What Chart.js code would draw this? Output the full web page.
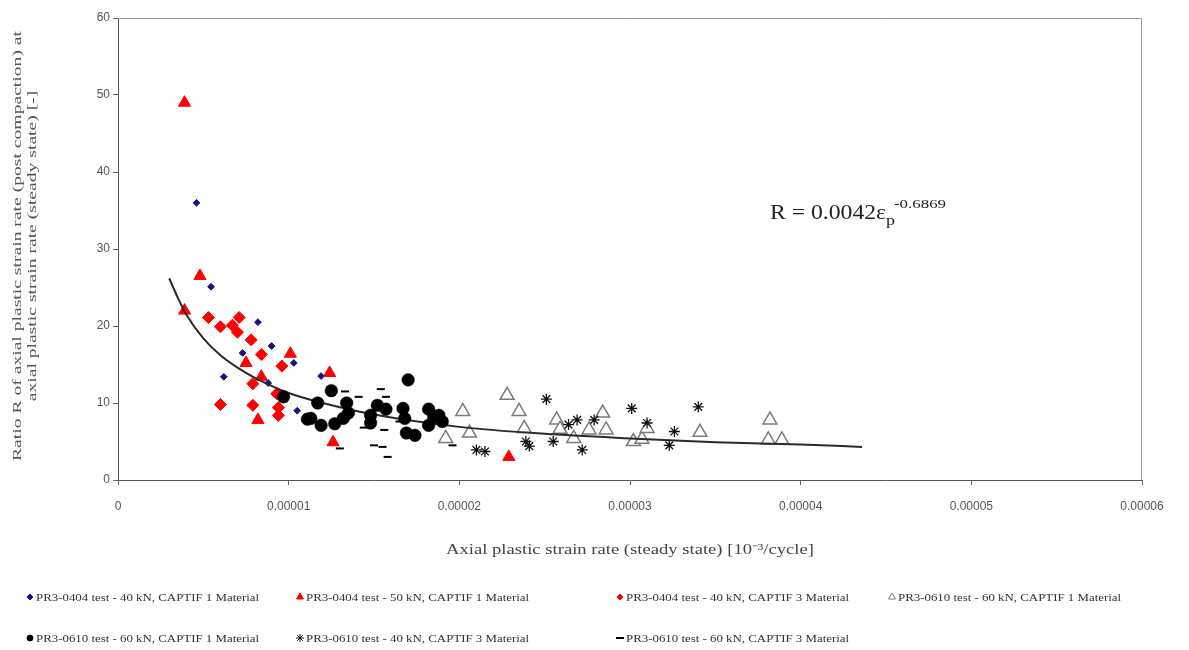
<!DOCTYPE html>
<html>
<head>
<meta charset="utf-8">
<script src="https://cdn.jsdelivr.net/npm/chart.js@4.4.0/dist/chart.umd.min.js"></script>
<style>
  html, body { margin: 0; background: #fff; }
</style>
</head>
<body>
<canvas id="chart" width="1189" height="650"></canvas>
<script>
// x values are in units of 1e-5 (10^-3/cycle axis), y = ratio R
const blueDiamondX = [0.46, 0.545, 0.82, 0.73, 0.90, 1.03, 0.62, 0.88, 1.05, 1.19];
const blueDiamondY = [36.0, 25.1, 20.5, 16.5, 17.4, 15.2, 13.4, 12.6, 9.0, 13.5];

const redTriangleX = [0.39, 0.48, 0.39, 0.75, 0.84, 0.82, 1.01, 1.24, 1.26, 2.29];
const redTriangleY = [49.0, 26.5, 22.0, 15.2, 13.4, 7.8, 16.4, 13.9, 4.9, 3.0];

const redDiamondX = [0.53, 0.60, 0.67, 0.71, 0.70, 0.78, 0.84, 0.96, 0.79, 0.60, 0.79, 0.93, 0.94, 0.94];
const redDiamondY = [21.1, 19.9, 20.1, 21.1, 19.2, 18.2, 16.3, 14.8, 12.5, 9.8, 9.7, 11.2, 9.4, 8.4];

const openTriangleX = [2.02, 1.92, 2.06, 2.28, 2.35, 2.38, 2.57, 2.59, 2.67, 2.76, 2.84, 2.86, 3.02, 3.07, 3.10, 3.41, 3.82, 3.81, 3.89];
const openTriangleY = [8.9, 5.4, 6.1, 11.0, 8.9, 6.7, 7.8, 6.6, 5.4, 6.5, 8.7, 6.5, 5.0, 5.3, 6.7, 6.2, 7.8, 5.2, 5.2];

const blackCircleX = [0.97, 1.11, 1.25, 1.17, 1.13, 1.19, 1.27, 1.32, 1.34, 1.35, 1.48, 1.48, 1.52, 1.57, 1.70, 1.67, 1.68, 1.69, 1.74, 1.82, 1.82, 1.88, 1.90, 1.85];
const blackCircleY = [10.8, 7.9, 11.6, 10.0, 8.0, 7.1, 7.3, 8.0, 10.0, 8.7, 8.4, 7.4, 9.7, 9.2, 13.0, 9.3, 8.0, 6.1, 5.8, 9.2, 7.1, 8.4, 7.6, 8.2];

const starX = [2.10, 2.15, 2.39, 2.41, 2.51, 2.55, 2.69, 2.79, 2.72, 2.64, 3.01, 3.10, 3.26, 3.23, 3.40];
const starY = [3.9, 3.7, 5.0, 4.4, 10.5, 5.0, 7.8, 7.8, 3.9, 7.2, 9.3, 7.4, 6.3, 4.5, 9.5];

const dashX = [1.33, 1.41, 1.54, 1.57, 1.44, 1.56, 1.50, 1.55, 1.58, 1.65, 1.30, 1.96];
const dashY = [11.5, 10.8, 11.8, 10.8, 6.8, 6.5, 4.5, 4.3, 3.0, 7.6, 4.1, 4.5];

// power trend line
const trendX = [0.30, 0.35, 0.40, 0.50, 0.60, 0.70, 0.80, 1.00, 1.20, 1.50, 2.00, 2.50, 3.00, 3.50, 4.00, 4.36];
const trendY = [26.2, 23.7, 21.5, 18.4, 16.2, 14.6, 13.3, 11.3, 10.0, 8.5, 6.9, 6.0, 5.4, 4.9, 4.6, 4.3];

const seriesNames = [
  "PR3-0404 test - 40 kN, CAPTIF 1 Material",
  "PR3-0404 test - 50 kN, CAPTIF 1 Material",
  "PR3-0404 test - 40 kN, CAPTIF 3 Material",
  "PR3-0610 test - 60 kN, CAPTIF 1 Material",
  "PR3-0610 test - 60 kN, CAPTIF 1 Material",
  "PR3-0610 test - 40 kN, CAPTIF 3 Material",
  "PR3-0610 test - 60 kN, CAPTIF 3 Material",
];

const xTitle = "Axial plastic strain rate (steady state) [10\u207b\u00b3/cycle]";
const yTitle = ["Ratio R of axial plastic strain rate (post compaction) at", "axial plastic strain rate (steady state) [-]"];

const xTickMin = 0, xTickMax = 6, xTickStep = 1;
const yTickMin = 0, yTickMax = 60, yTickStep = 10;

const serif = "'Liberation Serif', 'Times New Roman', serif";
const sans = "'Liberation Sans', Arial, sans-serif";

function pts(xs, ys) { return xs.map((x, i) => ({ x, y: ys[i] })); }

const datasets = [
  { label: seriesNames[0], data: pts(blueDiamondX, blueDiamondY), pointStyle: "rectRot", pointRadius: 3.4, backgroundColor: "#14147e", borderColor: "#14147e", borderWidth: 1 },
  { label: seriesNames[1], data: pts(redTriangleX, redTriangleY), pointStyle: "triangle", pointRadius: 7, backgroundColor: "#ff0000", borderColor: "#ff0000", borderWidth: 1 },
  { label: seriesNames[2], data: pts(redDiamondX, redDiamondY), pointStyle: "rectRot", pointRadius: 6, backgroundColor: "#ff0000", borderColor: "#ff0000", borderWidth: 1 },
  { label: seriesNames[3], data: pts(openTriangleX, openTriangleY), pointStyle: "triangle", pointRadius: 8, backgroundColor: "#ffffff", borderColor: "#7a7a7a", borderWidth: 1.5 },
  { label: "trend", data: pts(trendX, trendY), showLine: true, pointRadius: 0, borderColor: "#2b2b2b", borderWidth: 2, cubicInterpolationMode: "monotone" },
  { label: seriesNames[4], data: pts(blackCircleX, blackCircleY), pointStyle: "circle", pointRadius: 6.3, backgroundColor: "#000000", borderColor: "#000000", borderWidth: 0.5 },
  { label: seriesNames[5], data: pts(starX, starY), pointStyle: "star", pointRadius: 5.5, backgroundColor: "#000000", borderColor: "#111111", borderWidth: 1.3 },
  { label: seriesNames[6], data: pts(dashX, dashY), pointStyle: "line", pointRadius: 4, backgroundColor: "#000000", borderColor: "#000000", borderWidth: 2 },
];
// first dataset is drawn last; reverse so the black series sit on top of the line
datasets.forEach((d, i) => { d.order = datasets.length - i; });

// legend layout: which dataset goes into which slot
const legendSlots = [
  { ds: 0, col: 0, row: 0 }, { ds: 1, col: 1, row: 0 }, { ds: 2, col: 2, row: 0 }, { ds: 3, col: 3, row: 0 },
  { ds: 5, col: 0, row: 1 }, { ds: 6, col: 1, row: 1 }, { ds: 7, col: 2, row: 1 },
];
const legendCols = [30, 300, 620, 892];
const legendRows = [597, 638];

// draw text stretched so it spans a given length (the reference is scaled unevenly)
function stretchedText(ctx, text, x, y, len, thick) {
  const w = ctx.measureText(text).width;
  ctx.save();
  ctx.translate(x, y);
  ctx.scale(len / w, thick || 1);
  ctx.fillText(text, 0, 0);
  ctx.restore();
}

const decorPlugin = {
  id: "decor",
  beforeDatasetsDraw(chart) {
    const { ctx, chartArea: a } = chart;
    ctx.save();
    ctx.strokeStyle = "#9a9a9a";
    ctx.lineWidth = 1;
    ctx.beginPath();
    ctx.moveTo(a.left, a.top + 0.5);
    ctx.lineTo(a.right - 0.5, a.top + 0.5);
    ctx.lineTo(a.right - 0.5, a.bottom);
    ctx.stroke();
    ctx.restore();
  },
  afterDraw(chart) {
    const ctx = chart.ctx;
    const a = chart.chartArea;
    ctx.save();

    // axis titles
    ctx.fillStyle = "#444";
    ctx.textBaseline = "middle";
    ctx.textAlign = "left";
    ctx.font = "13px " + serif;
    const xw = 368;
    stretchedText(ctx, xTitle, (a.left + a.right) / 2 - xw / 2, 550, xw, 1.05);

    ctx.fillStyle = "#555";
    ctx.font = "11px " + serif;
    const w1 = ctx.measureText(yTitle[0]).width;
    const k = 430 / w1;
    const yMid = 246;
    [18, 33].forEach((lx, i) => {
      const w = ctx.measureText(yTitle[i]).width * k;
      ctx.save();
      ctx.translate(lx, yMid + w / 2);
      ctx.rotate(-Math.PI / 2);
      ctx.scale(k, 1.1);
      ctx.fillText(yTitle[i], 0, 0);
      ctx.restore();
    });

    // equation
    ctx.fillStyle = "#222";
    ctx.textBaseline = "alphabetic";
    ctx.font = "21px " + serif;
    stretchedText(ctx, "R = 0.0042\u03b5", 770, 219, 116);
    ctx.font = "14px " + serif;
    stretchedText(ctx, "p", 886, 225, 9);
    ctx.font = "12px " + serif;
    stretchedText(ctx, "-0.6869", 894, 208, 52);

    // legend
    ctx.font = "11px " + serif;
    ctx.textBaseline = "middle";
    legendSlots.forEach((s) => {
      const ds = chart.data.datasets[s.ds];
      const lx = legendCols[s.col], ly = legendRows[s.row];
      ctx.fillStyle = ds.backgroundColor;
      ctx.strokeStyle = ds.borderColor;
      ctx.lineWidth = ds.pointStyle === "line" ? 2 : 1;
      const r = ds.pointStyle === "rectRot" || ds.pointStyle === "circle" ? 3 : 4;
      Chart.helpers.drawPoint(ctx, { pointStyle: ds.pointStyle, radius: r, rotation: 0, borderWidth: ctx.lineWidth }, lx, ly);
      ctx.fillStyle = "#333";
      const tw = ctx.measureText(ds.label).width * 1.17;
      stretchedText(ctx, ds.label, lx + 6, ly + 1, tw);
    });
    ctx.restore();
  },
};

function fmtX(v) {
  if (Math.abs(v) < 1e-9) return "0";
  return (v / 1e5).toFixed(5).replace(".", ",");
}

new Chart(document.getElementById("chart"), {
  type: "scatter",
  data: { datasets },
  options: {
    responsive: false,
    animation: false,
    layout: { padding: { left: 0, right: 47, top: 18, bottom: 140 } },
    plugins: { legend: { display: false }, tooltip: { enabled: false } },
    scales: {
      x: {
        min: xTickMin, max: xTickMax,
        ticks: { stepSize: xTickStep, callback: fmtX, color: "#555", font: { family: sans, size: 12 }, maxRotation: 0, padding: 14 },
        grid: { drawOnChartArea: false, drawTicks: true, tickLength: 5, color: "#666" },
        border: { color: "#555", width: 1 },
        afterFit(scale) { scale.height = 30; },
      },
      y: {
        min: yTickMin, max: yTickMax,
        ticks: { stepSize: yTickStep, color: "#555", font: { family: sans, size: 12 }, padding: 3 },
        grid: { drawOnChartArea: false, drawTicks: true, tickLength: 5, color: "#666" },
        border: { color: "#555", width: 1 },
        afterFit(scale) { scale.width = 118; },
      },
    },
  },
  plugins: [decorPlugin],
});
</script>
</body>
</html>
